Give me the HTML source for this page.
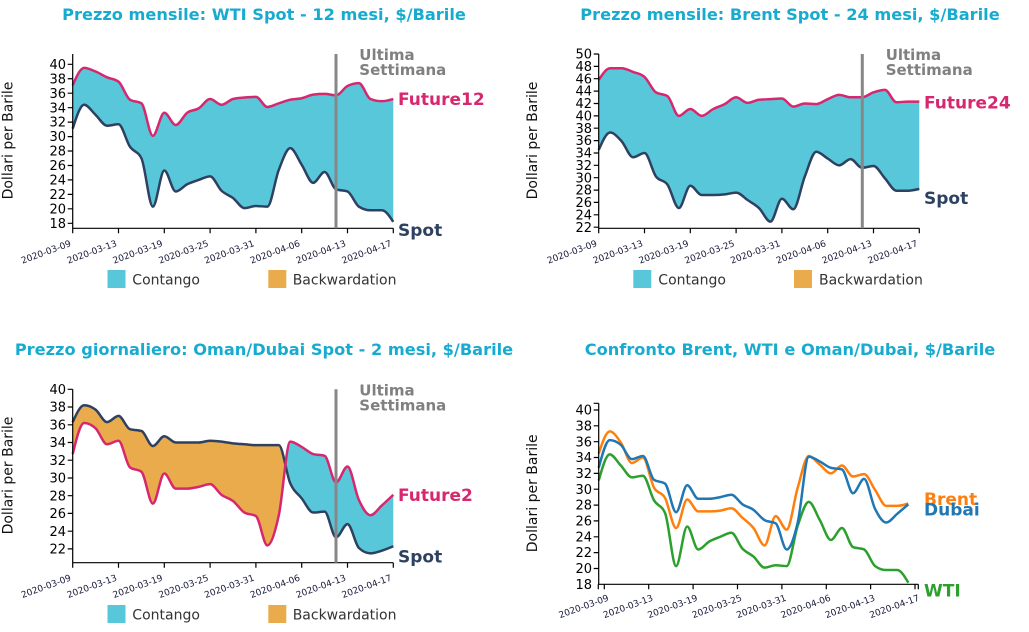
<!DOCTYPE html>
<html><head><meta charset="utf-8">
<style>
html,body{margin:0;padding:0;background:#fff;}
svg{display:block;font-family:"DejaVu Sans","Liberation Sans",sans-serif;}
.t{font-size:16.2px;font-weight:bold;fill:#17abd0;text-anchor:middle;}
.yl{font-size:13px;fill:#000;text-anchor:end;}
.xl{font-size:9px;fill:#18193a;text-anchor:end;}
.yt{font-size:14px;fill:#111;text-anchor:middle;}
.lg{font-size:14px;fill:#333;}
.us{font-size:15px;font-weight:bold;fill:#808080;}
.lb{font-size:17px;font-weight:bold;}
.ax{stroke:#000;stroke-width:1.2;fill:none;}
</style></head>
<body>
<svg id="s" width="1029" height="632" viewBox="0 0 1029 632" xmlns="http://www.w3.org/2000/svg">
<defs id="defs"></defs>
<g id="dyn"></g>

<!-- Titles -->
<text class="t" x="264" y="20">Prezzo mensile: WTI Spot - 12 mesi, $/Barile</text>
<text class="t" x="790" y="20">Prezzo mensile: Brent Spot - 24 mesi, $/Barile</text>
<text class="t" x="264" y="355">Prezzo giornaliero: Oman/Dubai Spot - 2 mesi, $/Barile</text>
<text class="t" x="790" y="355">Confronto Brent, WTI e Oman/Dubai, $/Barile</text>

<!-- Y axis titles -->
<text class="yt" transform="translate(12.5,140.5) rotate(-90)">Dollari per Barile</text>
<text class="yt" transform="translate(537,140.5) rotate(-90)">Dollari per Barile</text>
<text class="yt" transform="translate(12.5,475.5) rotate(-90)">Dollari per Barile</text>
<text class="yt" transform="translate(537,493.3) rotate(-90)">Dollari per Barile</text>

<!-- Axes TL -->
<path class="ax" d="M72.7,54V228.3H393.3
M72.7,228.3v5M118.5,228.3v5M164.3,228.3v5M210.1,228.3v5M255.9,228.3v5M301.7,228.3v5M347.5,228.3v5M393.3,228.3v5
M67.7,64.3h5M67.7,78.75h5M67.7,93.2h5M67.7,107.7h5M67.7,122.1h5M67.7,136.6h5M67.7,151h5M67.7,165.5h5M67.7,179.9h5M67.7,194.4h5M67.7,208.8h5M67.7,223.3h5"/>
<g class="yl">
<text x="66" y="68.9">40</text><text x="66" y="83.35">38</text><text x="66" y="97.8">36</text><text x="66" y="112.3">34</text><text x="66" y="126.7">32</text><text x="66" y="141.2">30</text><text x="66" y="155.6">28</text><text x="66" y="170.1">26</text><text x="66" y="184.5">24</text><text x="66" y="199">22</text><text x="66" y="213.4">20</text><text x="66" y="227.9">18</text>
</g>
<g class="xl">
<text transform="translate(71.7,245.8) rotate(-20)">2020-03-09</text>
<text transform="translate(117.5,245.8) rotate(-20)">2020-03-13</text>
<text transform="translate(163.3,245.8) rotate(-20)">2020-03-19</text>
<text transform="translate(209.1,245.8) rotate(-20)">2020-03-25</text>
<text transform="translate(254.9,245.8) rotate(-20)">2020-03-31</text>
<text transform="translate(300.7,245.8) rotate(-20)">2020-04-06</text>
<text transform="translate(346.5,245.8) rotate(-20)">2020-04-13</text>
<text transform="translate(392.3,245.8) rotate(-20)">2020-04-17</text>
</g>

<!-- Axes TR -->
<path class="ax" d="M598.7,54V228.3H919.3
M598.7,228.3v5M644.5,228.3v5M690.3,228.3v5M736.1,228.3v5M781.9,228.3v5M827.7,228.3v5M873.5,228.3v5M919.3,228.3v5
M593.7,54h5M593.7,66.4h5M593.7,78.7h5M593.7,91.1h5M593.7,103.5h5M593.7,115.9h5M593.7,128.2h5M593.7,140.6h5M593.7,153h5M593.7,165.3h5M593.7,177.7h5M593.7,190.1h5M593.7,202.4h5M593.7,214.8h5M593.7,227.2h5"/>
<g class="yl">
<text x="592" y="58.6">50</text><text x="592" y="71">48</text><text x="592" y="83.3">46</text><text x="592" y="95.7">44</text><text x="592" y="108.1">42</text><text x="592" y="120.5">40</text><text x="592" y="132.8">38</text><text x="592" y="145.2">36</text><text x="592" y="157.6">34</text><text x="592" y="169.9">32</text><text x="592" y="182.3">30</text><text x="592" y="194.7">28</text><text x="592" y="207">26</text><text x="592" y="219.4">24</text><text x="592" y="231.8">22</text>
</g>
<g class="xl">
<text transform="translate(597.7,245.8) rotate(-20)">2020-03-09</text>
<text transform="translate(643.5,245.8) rotate(-20)">2020-03-13</text>
<text transform="translate(689.3,245.8) rotate(-20)">2020-03-19</text>
<text transform="translate(735.1,245.8) rotate(-20)">2020-03-25</text>
<text transform="translate(780.9,245.8) rotate(-20)">2020-03-31</text>
<text transform="translate(826.7,245.8) rotate(-20)">2020-04-06</text>
<text transform="translate(872.5,245.8) rotate(-20)">2020-04-13</text>
<text transform="translate(918.3,245.8) rotate(-20)">2020-04-17</text>
</g>

<!-- Axes BL -->
<path class="ax" d="M72.7,389.3V562.7H393.3
M72.7,562.7v5M118.5,562.7v5M164.3,562.7v5M210.1,562.7v5M255.9,562.7v5M301.7,562.7v5M347.5,562.7v5M393.3,562.7v5
M67.7,389.3h5M67.7,407h5M67.7,424.8h5M67.7,442.5h5M67.7,460.2h5M67.7,478h5M67.7,495.7h5M67.7,513.4h5M67.7,531.2h5M67.7,548.9h5"/>
<g class="yl">
<text x="66" y="393.9">40</text><text x="66" y="411.6">38</text><text x="66" y="429.4">36</text><text x="66" y="447.1">34</text><text x="66" y="464.8">32</text><text x="66" y="482.6">30</text><text x="66" y="500.3">28</text><text x="66" y="518">26</text><text x="66" y="535.8">24</text><text x="66" y="553.5">22</text>
</g>
<g class="xl">
<text transform="translate(71.7,580.2) rotate(-20)">2020-03-09</text>
<text transform="translate(117.5,580.2) rotate(-20)">2020-03-13</text>
<text transform="translate(163.3,580.2) rotate(-20)">2020-03-19</text>
<text transform="translate(209.1,580.2) rotate(-20)">2020-03-25</text>
<text transform="translate(254.9,580.2) rotate(-20)">2020-03-31</text>
<text transform="translate(300.7,580.2) rotate(-20)">2020-04-06</text>
<text transform="translate(346.5,580.2) rotate(-20)">2020-04-13</text>
<text transform="translate(392.3,580.2) rotate(-20)">2020-04-17</text>
</g>

<!-- Axes BR -->
<path class="ax" d="M598.7,403.3V584.3M598.3,584.3H918.3M598.3,584.3v5M918.3,584.3v5
M604.3,584.3v5M648.7,584.3v5M693.1,584.3v5M737.5,584.3v5M781.9,584.3v5M826.3,584.3v5M870.6,584.3v5M915,584.3v5
M593.7,403.3h5M593.7,410h5M593.7,425.8h5M593.7,441.7h5M593.7,457.5h5M593.7,473.4h5M593.7,489.2h5M593.7,505.1h5M593.7,520.9h5M593.7,536.8h5M593.7,552.6h5M593.7,568.5h5"/>
<g class="yl">
<text x="592" y="414.6">40</text><text x="592" y="430.4">38</text><text x="592" y="446.3">36</text><text x="592" y="462.1">34</text><text x="592" y="478">32</text><text x="592" y="493.8">30</text><text x="592" y="509.7">28</text><text x="592" y="525.5">26</text><text x="592" y="541.4">24</text><text x="592" y="557.2">22</text><text x="592" y="573.1">20</text><text x="592" y="588.9">18</text>
</g>
<g class="xl">
<text transform="translate(609.3,600.3) rotate(-20)">2020-03-09</text>
<text transform="translate(653.7,600.3) rotate(-20)">2020-03-13</text>
<text transform="translate(698.1,600.3) rotate(-20)">2020-03-19</text>
<text transform="translate(742.5,600.3) rotate(-20)">2020-03-25</text>
<text transform="translate(786.9,600.3) rotate(-20)">2020-03-31</text>
<text transform="translate(831.3,600.3) rotate(-20)">2020-04-06</text>
<text transform="translate(875.6,600.3) rotate(-20)">2020-04-13</text>
<text transform="translate(920,600.3) rotate(-20)">2020-04-17</text>
</g>

<!-- Ultima settimana vertical lines -->
<line x1="336" y1="54" x2="336" y2="228.3" stroke="#878787" stroke-width="3"/>
<line x1="862.3" y1="54" x2="862.3" y2="228.3" stroke="#878787" stroke-width="3"/>
<line x1="336" y1="389.3" x2="336" y2="562.7" stroke="#878787" stroke-width="3"/>
<text class="us" x="359.3" y="60">Ultima</text><text class="us" x="359.3" y="75">Settimana</text>
<text class="us" x="885.7" y="60">Ultima</text><text class="us" x="885.7" y="75">Settimana</text>
<text class="us" x="359.3" y="395.7">Ultima</text><text class="us" x="359.3" y="410.5">Settimana</text>

<!-- Series labels -->
<text class="lb" x="398" y="105" fill="#d6276f">Future12</text>
<text class="lb" x="398" y="236" fill="#2e4160">Spot</text>
<text class="lb" x="924" y="108.3" fill="#d6276f">Future24</text>
<text class="lb" x="924" y="204" fill="#2e4160">Spot</text>
<text class="lb" x="398" y="501" fill="#d6276f">Future2</text>
<text class="lb" x="398" y="562.3" fill="#2e4160">Spot</text>
<text class="lb" x="924" y="505" fill="#ff7f0e">Brent</text>
<text class="lb" x="924" y="515.7" fill="#1f77b4">Dubai</text>
<text class="lb" x="924" y="596.5" fill="#2ca02c">WTI</text>

<!-- Legends -->
<rect x="107.5" y="270" width="18" height="18" fill="#59c7da"/>
<text class="lg" x="132.3" y="284.3">Contango</text>
<rect x="268.3" y="270" width="18" height="18" fill="#e9ab4b"/>
<text class="lg" x="292.7" y="284.3">Backwardation</text>
<rect x="633.3" y="270" width="18" height="18" fill="#59c7da"/>
<text class="lg" x="658.3" y="284.3">Contango</text>
<rect x="794" y="270" width="18" height="18" fill="#e9ab4b"/>
<text class="lg" x="819" y="284.3">Backwardation</text>
<rect x="107.5" y="605" width="18" height="18" fill="#59c7da"/>
<text class="lg" x="132.3" y="619.3">Contango</text>
<rect x="268.3" y="605" width="18" height="18" fill="#e9ab4b"/>
<text class="lg" x="292.7" y="619.3">Backwardation</text>
</svg>

<script>
(function(){
var NS="http://www.w3.org/2000/svg";
var dyn=document.getElementById("dyn"), defs=document.getElementById("defs");
var S1=[31.1,34.4,33.0,31.5,31.7,28.6,27.0,20.3,25.3,22.4,23.4,24.0,24.5,22.5,21.5,20.1,20.4,20.3,25.4,28.4,26.1,23.6,25.1,22.7,22.4,20.3,19.8,19.8,18.2];
var F1=[37.1,39.5,39.0,38.2,37.6,35.1,34.6,30.1,33.3,31.6,33.3,33.9,35.2,34.4,35.2,35.4,35.5,34.1,34.6,35.1,35.3,35.8,35.9,35.7,37.0,37.4,35.2,34.9,35.2];
var S2=[34.5,37.3,35.9,33.3,34.0,30.2,28.9,25.1,28.7,27.2,27.2,27.3,27.6,26.4,25.1,22.9,26.6,24.9,30.2,34.2,33.1,32.0,33.0,31.6,31.9,29.9,27.9,27.9,28.2];
var F2=[45.8,47.7,47.7,47.1,46.3,43.8,43.2,40.0,41.1,40.0,41.1,41.9,43.0,42.1,42.6,42.7,42.8,41.5,42.0,41.9,42.7,43.4,43.0,43.0,43.8,44.2,42.2,42.3,42.3];
var S3=[36.3,38.2,37.7,36.3,37.0,35.5,35.3,33.6,34.7,34.0,34.0,34.0,34.2,34.1,33.9,33.8,33.7,33.7,33.7,29.4,27.7,26.1,26.2,23.3,24.8,22.1,21.5,21.8,22.3];
var F3=[32.7,36.2,35.6,33.8,34.2,31.2,30.7,27.1,30.5,28.8,28.8,29.0,29.3,28.1,27.4,26.1,25.7,22.4,25.8,34.1,33.5,32.7,32.5,29.5,31.3,27.5,25.8,26.9,28.1];

function tang(xs,ys){
  var n=xs.length,m=[],s=[],i;
  for(i=0;i<n-1;i++) s[i]=(ys[i+1]-ys[i])/(xs[i+1]-xs[i]);
  for(i=1;i<n-1;i++){
    var h0=xs[i]-xs[i-1],h1=xs[i+1]-xs[i],s0=s[i-1],s1=s[i];
    var p=(s0*h1+s1*h0)/(h0+h1);
    m[i]=((s0<0?-1:1)+(s1<0?-1:1))*Math.min(Math.abs(s0),Math.abs(s1),0.5*Math.abs(p))||0;
  }
  m[0]=(3*s[0]-m[1])/2; m[n-1]=(3*s[n-2]-m[n-2])/2;
  return m;
}
function f(v){return v.toFixed(2);}
function fwd(xs,ys,m){
  var d="M"+f(xs[0])+","+f(ys[0]);
  for(var i=0;i<xs.length-1;i++){
    var dx=(xs[i+1]-xs[i])/3;
    d+="C"+f(xs[i]+dx)+","+f(ys[i]+dx*m[i])+","+f(xs[i+1]-dx)+","+f(ys[i+1]-dx*m[i+1])+","+f(xs[i+1])+","+f(ys[i+1]);
  }
  return d;
}
function rev(xs,ys,m){
  var d="";
  for(var i=xs.length-1;i>0;i--){
    var dx=(xs[i]-xs[i-1])/3;
    d+="C"+f(xs[i]-dx)+","+f(ys[i]-dx*m[i])+","+f(xs[i-1]+dx)+","+f(ys[i-1]+dx*m[i-1])+","+f(xs[i-1])+","+f(ys[i-1]);
  }
  return d;
}
function el(tag,attrs,parent){
  var e=document.createElementNS(NS,tag);
  for(var k in attrs) e.setAttribute(k,attrs[k]);
  (parent||dyn).appendChild(e); return e;
}
function xsOf(x0,step){var a=[];for(var i=0;i<29;i++)a.push(x0+i*step);return a;}

function band(id,x0,step,yf,spot,fut){
  var xs=xsOf(x0,step);
  var ys=spot.map(yf), yf2=fut.map(yf);
  var ms=tang(xs,ys), mf=tang(xs,yf2);
  var n=xs.length;
  var bandD=fwd(xs,yf2,mf)+"L"+f(xs[n-1])+","+f(ys[n-1])+rev(xs,ys,ms)+"Z";
  var c1=el("clipPath",{id:id+"a"},defs);
  el("path",{d:fwd(xs,ys,ms)+"L"+f(xs[n-1]+1)+","+f(ys[n-1])+"L"+f(xs[n-1]+1)+",0L"+f(xs[0]-1)+",0L"+f(xs[0]-1)+","+f(ys[0])+"Z"},c1);
  var c2=el("clipPath",{id:id+"b"},defs);
  el("path",{d:fwd(xs,yf2,mf)+"L"+f(xs[n-1]+1)+","+f(yf2[n-1])+"L"+f(xs[n-1]+1)+",0L"+f(xs[0]-1)+",0L"+f(xs[0]-1)+","+f(yf2[0])+"Z"},c2);
  el("path",{d:bandD,fill:"#59c7da","clip-path":"url(#"+id+"a)"});
  el("path",{d:bandD,fill:"#e9ab4b","clip-path":"url(#"+id+"b)"});
  el("path",{d:fwd(xs,ys,ms),fill:"none",stroke:"#2e4160","stroke-width":2.5,"stroke-linejoin":"round"});
  el("path",{d:fwd(xs,yf2,mf),fill:"none",stroke:"#d6276f","stroke-width":2.5,"stroke-linejoin":"round"});
}
var step=320.6/28;
band("tl",72.7,step,function(v){return 64.3+(40-v)*7.227;},S1,F1);
band("tr",598.7,step,function(v){return 54+(50-v)*6.186;},S2,F2);
band("bl",72.7,step,function(v){return 389.3+(40-v)*8.867;},S3,F3);

var xs=xsOf(598.7,309.6/28);
var yb=function(v){return 410+(40-v)*7.923;};
[[S1,"#2ca02c"],[S2,"#ff7f0e"],[F3,"#1f77b4"]].forEach(function(p){
  var ys=p[0].map(yb), m=tang(xs,ys);
  el("path",{d:fwd(xs,ys,m),fill:"none",stroke:p[1],"stroke-width":2.5,"stroke-linejoin":"round"});
});
})();
</script>
</body></html>
